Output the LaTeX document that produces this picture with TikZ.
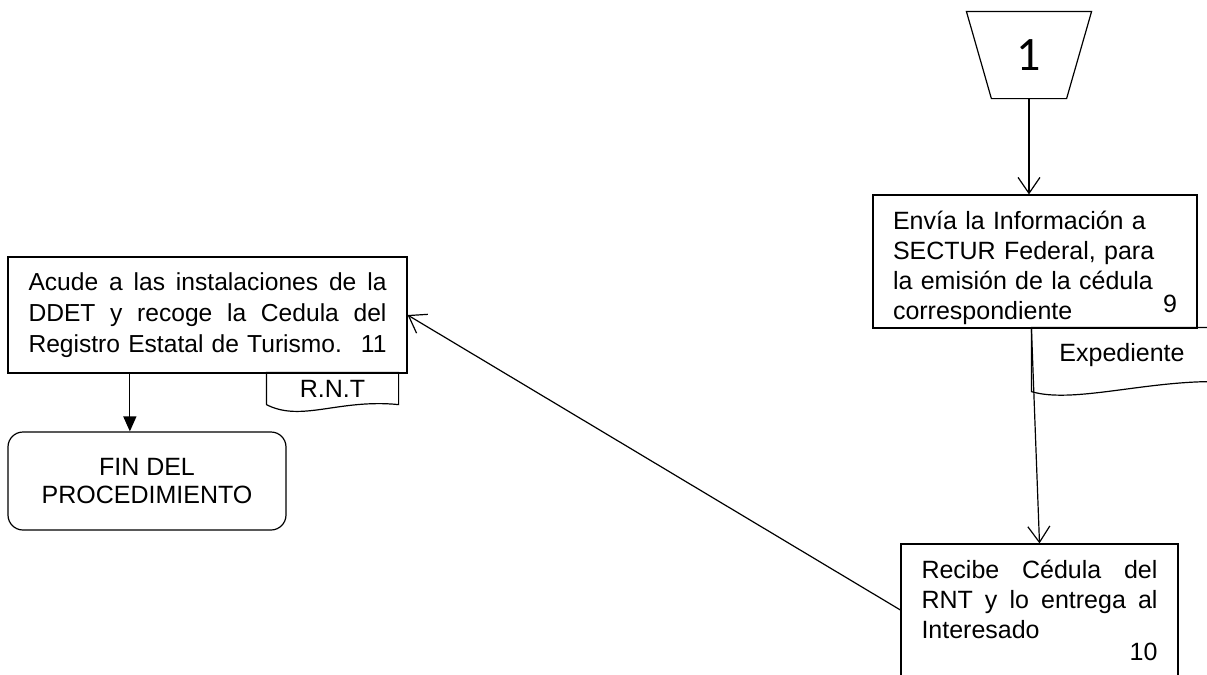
\documentclass[tikz,border=0pt]{standalone}
\usepackage{fontspec}
\setmainfont{Liberation Sans}
\newfontfamily\connfont{Carlito}
\usetikzlibrary{arrows.meta, calc}
\newcommand{\fullline}[2]{\makebox[#1][s]{\spaceskip=0pt\xspaceskip=0pt #2}}
\tikzset{
  flow/.style={-{Straight Barb[length=8pt,width=11pt]}},
  endflow/.style={-{Triangle[length=7.5pt,width=6.5pt]}},
  process/.style={draw, rectangle, inner sep=0pt, align=left},
  terminal/.style={draw, rectangle, rounded corners=7.5pt, inner sep=0pt, align=center},
  docnode/.style={inner sep=0pt},
  stepno/.style={inner sep=0pt},
  connector/.style={inner sep=0pt, font=\connfont\fontsize{24}{24}\selectfont},
}

\begin{document}
\begin{tikzpicture}[x=0.5pt, y=-0.5pt, line width=0.6pt,
    every node/.style={font=\fontsize{12.5}{15}\selectfont}]
    \path[use as bounding box] (0,0) rectangle (1207,675);
    \clip (0,0) rectangle (1207,675);

    % connector
    \node[connector, minimum width=62pt, minimum height=43pt] (conn) at (1029,55) {1};
    \draw (conn.north west) -- (conn.north east) -- ([xshift=-12.5pt]conn.south east)
          -- ([xshift=12.5pt]conn.south west) -- cycle;

    % boxes
    \node[process, minimum width=162pt, minimum height=66.5pt, text width=142pt,
          text height=15.5pt] (b9) at (1035,261.5)
      {Envía la Información a\\SECTUR Federal, para\\la emisión de la cédula\\correspondiente};
    \node[stepno] (num9) at (1170,304) {9};
    \node[process, minimum width=138.5pt, minimum height=66pt, text width=118pt] (b10) at (1039.5,610)
      {\fullline{118pt}{Recibe Cédula del}\\\fullline{118pt}{RNT y lo entrega al}\\Interesado\\[-4pt]\hfill 10};
    \node[process, minimum width=199.5pt, minimum height=58pt, text width=179pt,
          font=\fontsize{12.3}{15.5}\selectfont] (b11) at (207.5,315)
      {\fullline{179pt}{Acude a las instalaciones de la}\\\fullline{179pt}{DDET y recoge la Cedula del}\\Registro Estatal de Turismo.\hfill 11};
    \node[terminal, minimum width=139pt, minimum height=49pt,
          font=\fontsize{12.5}{14}\selectfont] (fin) at (147,481) {FIN DEL\\PROCEDIMIENTO};

    % documents
    \node[docnode, minimum width=65.5pt, minimum height=15.5pt] (rnt) at (332.5,388.5) {R.N.T};
    \draw (rnt.south west) -- (rnt.north west) -- (rnt.north east) -- (rnt.south east)
          .. controls +(-60,-6) and +(35,18) .. (rnt.south west);
    \node[docnode, minimum width=90pt, minimum height=31.5pt, text depth=7pt] (exp) at (1122,359.5) {Expediente};
    \draw (exp.north east) -- (exp.north west) -- (exp.south west)
          .. controls +(40,12) and +(-70,0) .. ([yshift=5pt]exp.south east) -- (exp.north east);

    % arrows
    \draw[flow] (conn.south) -- (conn.south |- b9.north);
    \draw[flow] (exp.north west) -- (b10.north);
    \draw[flow] (b10.west) -- (b11.east);
    \coordinate (b11out) at ($(b11.south west)!0.306!(b11.south east)$);
    \draw[endflow] (b11out) -- (b11out |- fin.north);
\end{tikzpicture}
\end{document}
